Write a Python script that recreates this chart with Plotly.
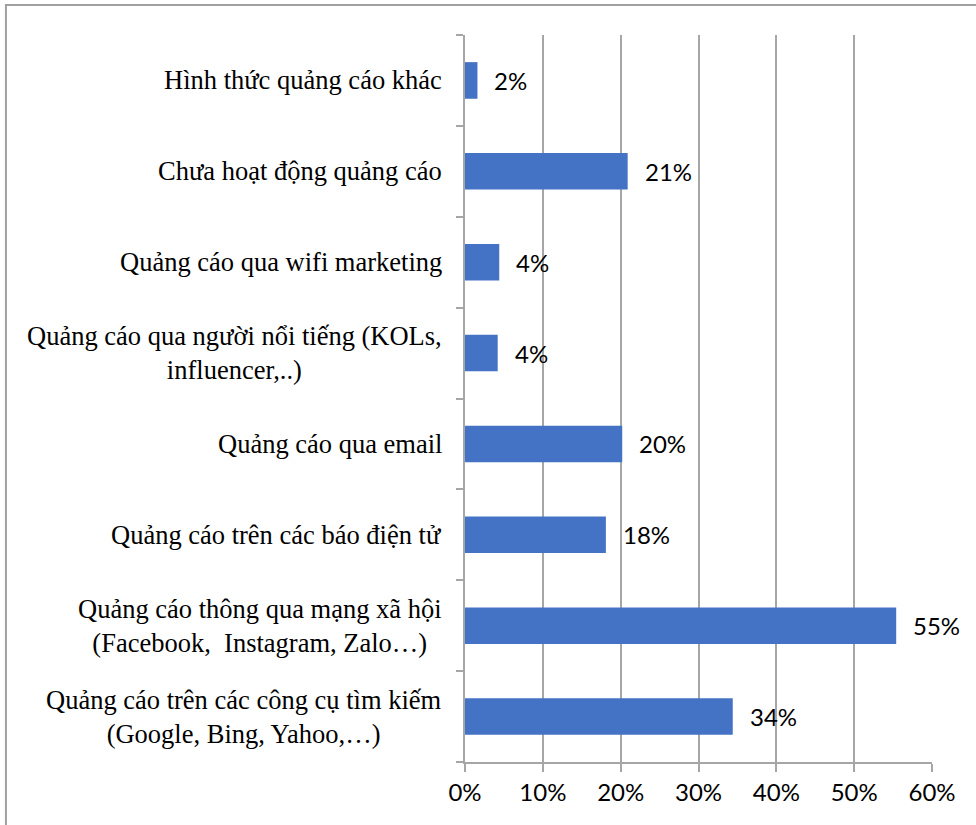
import plotly.graph_objects as go

# Categories listed bottom-to-top, as they appear on the y axis
categories = [
    "Quảng cáo trên các công cụ tìm kiếm<br>(Google, Bing, Yahoo,…)",
    "Quảng cáo thông qua mạng xã hội<br>(Facebook,  Instagram, Zalo…)",
    "Quảng cáo trên các báo điện tử",
    "Quảng cáo qua email",
    "Quảng cáo qua người nổi tiếng (KOLs,<br>influencer,..)",
    "Quảng cáo qua wifi marketing",
    "Chưa hoạt động quảng cáo",
    "Hình thức quảng cáo khác",
]
shares = [0.344, 0.554, 0.181, 0.202, 0.042, 0.044, 0.209, 0.016]
x_ticks = [0, 0.1, 0.2, 0.3, 0.4, 0.5, 0.6]
x_tick_labels = ["0%", "10%", "20%", "30%", "40%", "50%", "60%"]

BAR_COLOR = "#4472C4"
GRID_COLOR = "#a6a6a6"
SERIF = "Liberation Serif, Times New Roman, serif"
SANS = "Lato, Carlito, Calibri, sans-serif"

fig = go.Figure(
    go.Bar(
        x=shares,
        y=categories,
        orientation="h",
        marker=dict(color=BAR_COLOR, line=dict(width=0)),
        hoverinfo="skip",
    )
)

# Value labels just to the right of each bar
for cat, val in zip(categories, shares):
    fig.add_annotation(
        x=val, y=cat, xref="x", yref="y",
        text=f"{val * 100:.0f}%",
        showarrow=False, xanchor="left", yanchor="middle", xshift=15,
        font=dict(family=SANS, size=24, color="#000000"),
    )

# Category labels: block right-aligned against the axis, lines centred on one another
for cat in categories:
    fig.add_annotation(
        x=0, y=cat, xref="paper", yref="y",
        text=cat,
        showarrow=False, xanchor="right", yanchor="middle", align="center",
        xshift=-21,
        font=dict(family=SERIF, size=26.5, color="#000000"),
    )

# Chart frame
fig.add_shape(
    type="rect", xref="paper", yref="paper",
    x0=-0.983, x1=1.3, y0=-0.3, y1=1.0413,
    line=dict(color="#a0a0a0", width=2), fillcolor="rgba(0,0,0,0)", layer="below",
)

fig.update_layout(
    width=976, height=825,
    margin=dict(l=465, r=44, t=35, b=63),
    paper_bgcolor="white", plot_bgcolor="white",
    bargap=0.597,
    showlegend=False,
    xaxis=dict(
        range=[0, 0.6],
        tickvals=x_ticks, ticktext=x_tick_labels,
        showgrid=True, gridcolor=GRID_COLOR, gridwidth=1.5,
        zeroline=False,
        showline=True, linecolor=GRID_COLOR, linewidth=1.5,
        ticks="outside", ticklen=8, tickcolor=GRID_COLOR, tickwidth=1.5,
        tickfont=dict(family=SANS, size=24, color="#000000"),
        fixedrange=True,
    ),
    yaxis=dict(
        categoryorder="array", categoryarray=categories,
        showticklabels=False,
        showgrid=False, zeroline=False,
        showline=True, linecolor=GRID_COLOR, linewidth=1.5,
        ticks="outside", ticklen=7, tickcolor=GRID_COLOR, tickwidth=1.5,
        tickson="boundaries",
        fixedrange=True,
    ),
)

fig.write_html("out.html")
